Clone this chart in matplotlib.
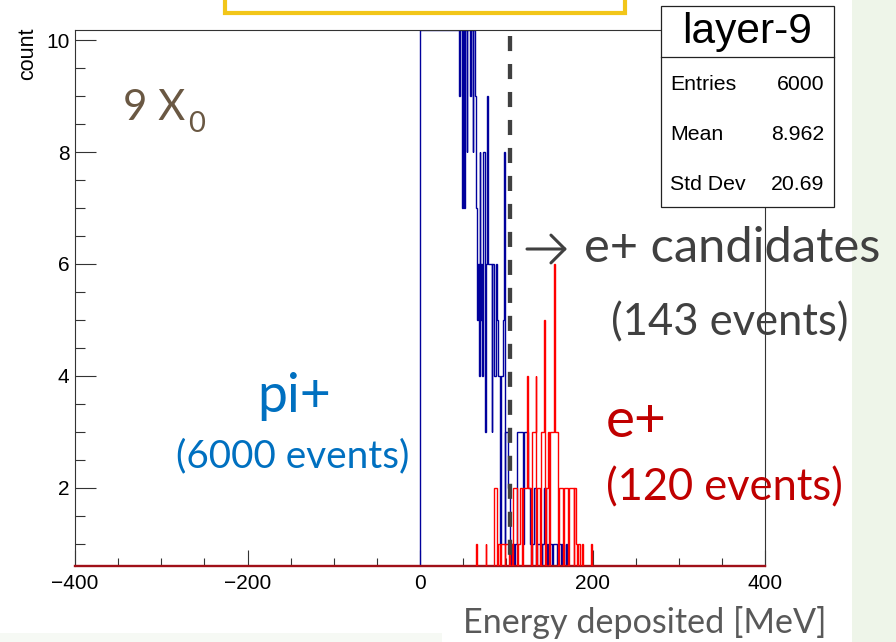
import matplotlib
matplotlib.use("Agg")
import matplotlib.pyplot as plt
import numpy as np
from matplotlib.patches import Rectangle, FancyArrowPatch
from matplotlib.lines import Line2D
from matplotlib.ticker import MultipleLocator

# ---------------- data (1 MeV bins) ----------------
pi_start = 0  # first bin lower edge [MeV]
pi_counts = [3800, 60, 48, 41, 37, 30, 34, 29, 26, 28, 25, 22, 24, 21, 19, 23, 20, 18, 17, 19,   # 0-19
             16, 18, 15, 17, 14, 16, 13, 15, 14, 12, 16, 13, 11, 14, 12, 13, 11, 15, 12, 11,     # 20-39
             13, 12, 11, 14, 11,                                                                 # 40-44
             9, 12, 12, 12, 7, 12, 7, 12, 12, 8, 12, 12, 12, 9, 12, 11, 8, 12, 12,               # 45-63
             9, 7, 5, 6, 4, 8, 5, 6, 4,                                                          # 64-72
             8, 8, 3, 6, 6, 9,                                                                   # 73-78
             6, 6, 6, 6, 3, 6, 6, 4, 4, 6,                                                       # 79-88
             5, 5, 4, 4, 1, 4, 4, 5, 8, 1,                                                       # 89-98
             3, 3, 3, 2, 2, 0, 1, 1, 1, 1, 0, 1, 1, 1, 3, 3, 3, 3, 3, 3,                         # 99-118
             1, 3, 3, 3, 3, 3, 2, 2, 1, 1, 0, 1, 1, 2, 2, 2, 0, 1, 1, 1,                         # 119-138
             1, 1, 0, 1, 1, 2, 2, 1, 0, 1, 1, 1, 1, 1, 0, 1, 1, 1, 1, 1,                         # 139-158
             0, 1, 1, 1, 1, 0, 1, 1, 0, 0, 1, 1]                                                 # 159-170

e_start = 60
e_counts = [0, 0, 0, 0, 0, 1, 0, 0, 0, 0, 0, 0, 0, 0, 0, 0, 1, 0, 0, 0,    # 60-79
            0, 0, 0, 0, 0, 0, 2, 2, 2, 0, 1, 1, 1, 0, 1, 1, 1, 1, 0, 1,    # 80-99
            1, 1, 1, 0, 1, 1, 1, 0, 2, 2, 2, 2, 2, 0, 1, 1, 2, 2, 0, 2,    # 100-119
            2, 2, 2, 2, 4, 2, 2, 2, 2, 0, 3, 3, 3, 3, 4, 0, 2, 2, 2, 0,    # 120-139
            3, 3, 3, 3, 5, 0, 2, 2, 3, 3, 0, 3, 3, 3, 3, 6, 3, 3, 3, 3,    # 140-159
            0, 2, 2, 2, 2, 2, 0, 2, 2, 2, 2, 2, 0, 2, 2, 2, 2, 2, 0, 2,    # 160-179
            2, 1, 0, 1, 1, 0, 0, 0, 1, 0, 0, 0, 0, 0, 0, 0, 0, 0, 1, 0]    # 180-199

cut_value = 104  # MeV, e+ candidate threshold
x_ticks = [-400, -200, 0, 200, 400]
y_ticks = [2, 4, 6, 8, 10]

stats_title = "layer-9"
stats_rows = [("Entries", "6000"), ("Mean", "8.962"), ("Std Dev", "20.69")]

# ---------------- figure ----------------
W, H = 896, 642
fig = plt.figure(figsize=(W / 100, H / 100), dpi=100)
fig.patch.set_facecolor("white")

def fx(x):
    return x / W

def fy(y):
    return 1 - y / H

# slide background pieces
fig.add_artist(Rectangle((fx(852), 0), 1 - fx(852), 1, transform=fig.transFigure,
                         facecolor="#eef5e9", edgecolor="none", zorder=-5))
fig.add_artist(Rectangle((0, 0), fx(442), fy(633), transform=fig.transFigure,
                         facecolor="#f6f9f4", edgecolor="none", zorder=-5))

ax = fig.add_axes([fx(75), fy(566), (765 - 75) / W, (566 - 29.5) / H])
ax.set_xlim(-400, 400)
ax.set_ylim(0.6, 10.19)
ax.set_facecolor("white")
ymax = ax.get_ylim()[1]

pi_edges = pi_start + np.arange(len(pi_counts) + 1)
e_edges = e_start + np.arange(len(e_counts) + 1)
ax.stairs(np.minimum(pi_counts, ymax), pi_edges, baseline=0, color="#00009c", lw=1.0, zorder=2)
ax.stairs(np.minimum(e_counts, ymax), e_edges, baseline=0, color="#ff0000", lw=1.0, zorder=3)

ax.plot([cut_value, cut_value], [10.07, 0.79], color="#404040", lw=3.1,
        dashes=(3.5, 3.0), zorder=4)

for s in ["left", "top", "right"]:
    ax.spines[s].set_color("#333333")
    ax.spines[s].set_linewidth(0.8)
ax.spines["bottom"].set_color("#a01018")
ax.spines["bottom"].set_linewidth(1.7)

ax.set_xticks(x_ticks)
ax.set_yticks(y_ticks)
ax.xaxis.set_minor_locator(MultipleLocator(50))
ax.yaxis.set_minor_locator(MultipleLocator(0.5))
ax.tick_params(axis="x", which="major", direction="in", length=11.5, width=0.8,
               color="#333333", labelsize=15, pad=6)
ax.tick_params(axis="x", which="minor", direction="in", length=5.8, width=0.8, color="#333333")
ax.tick_params(axis="y", which="major", direction="in", length=15, width=0.8,
               color="#333333", labelsize=15, pad=4)
ax.tick_params(axis="y", which="minor", direction="in", length=7.2, width=0.8, color="#333333")
for lab in ax.get_xticklabels() + ax.get_yticklabels():
    lab.set_family("Liberation Sans")

fig.text(fx(27.5), fy(28), "count", rotation=90, ha="center", va="top",
         fontsize=15.5, family="Liberation Sans", color="black")

# yellow box (top, partially out of view)
fig.add_artist(Rectangle((fx(225), fy(13)), (625 - 225) / W, 0.2, transform=fig.transFigure,
                         facecolor="white", edgecolor="#f2c619", lw=3.0, zorder=5))

# stats box
fig.add_artist(Rectangle((fx(661), fy(207)), (834 - 661) / W, (207 - 6) / H,
                         transform=fig.transFigure, facecolor="white",
                         edgecolor="#222222", lw=0.9, zorder=5))
fig.add_artist(Line2D([fx(661), fx(834)], [fy(57), fy(57)], transform=fig.transFigure,
                      color="#222222", lw=0.9, zorder=6))

renderer = fig.canvas.get_renderer()

def fit(s, x0, x1, ybase, color, family, ha="left", fs=None):
    t = fig.text(fx(x0), fy(ybase), s, fontsize=20, family=family, color=color,
                 ha="left", va="baseline", zorder=7)
    if fs is None:
        bb = t.get_window_extent(renderer=renderer)
        fs = 20 * (x1 - x0) / bb.width
    t.set_fontsize(fs)
    if ha == "right":
        t.set_x(fx(x1))
        t.set_ha("right")
    return t

fit(stats_title, 682, 812, 43, "black", "Liberation Sans")
t0 = fit(stats_rows[0][0], 670, 736, 90, "black", "Liberation Sans")
fs_rows = t0.get_fontsize()
for i, (k, v) in enumerate(stats_rows):
    yb = 90 + 50 * i
    if i > 0:
        fit(k, 670, 736, yb, "black", "Liberation Sans", fs=fs_rows)
    fit(v, 700, 824, yb, "black", "Liberation Sans", ha="right", fs=fs_rows)

# slide annotations
fam = "Lato"
fit("9 X", 123, 185, 120, "#6a5843", fam)
fit("0", 188, 205, 131.5, "#6a5843", fam)
fit("pi+", 257, 331, 412, "#0070c0", fam)
fit("(6000 events)", 175.7, 409.3, 467, "#0070c0", fam)
fit("e+", 605.7, 666.7, 437, "#c00000", fam)
fit("(120 events)", 605.7, 843.3, 500, "#c00000", fam)
fig.add_artist(FancyArrowPatch((fx(527), fy(249)), (fx(567), fy(249)), transform=fig.transFigure,
                               arrowstyle="->,head_length=10,head_width=10", lw=2.2,
                               color="#404040", shrinkA=0, shrinkB=0, zorder=7))
fit("e+ candidates", 583.5, 880, 262, "#404040", fam)
fit("(143 events)", 611, 849, 335, "#404040", fam)
fit("Energy deposited [MeV]", 462.7, 826.7, 633, "#595959", fam)

fig.savefig("out.png", dpi=100)
